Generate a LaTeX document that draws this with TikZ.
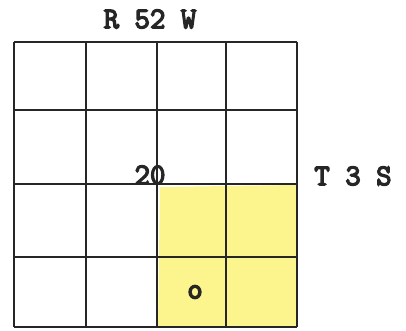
\documentclass[tikz,border=0pt]{standalone}
\usepackage{fontspec}
\newfontfamily\twfont[FakeBold=4.5]{Latin Modern Mono}
\definecolor{crayon}{RGB}{252,244,140}
\tikzset{
  gridline/.style={line width=1.3pt, draw=black!85},
  lbl/.style={font=\twfont\fontsize{30}{30}\selectfont, text=black!85, inner sep=0pt, anchor=center}
}
\begin{document}
\begin{tikzpicture}[x=1pt,y=-1pt]
\useasboundingbox (0,0) rectangle (406,330);
\fill[crayon] (160,187) -- (296,185) -- (297,327) -- (158,327) -- cycle;
\foreach \x in {14,86,157,226,297} \draw[gridline] (\x,42) -- (\x,327);
\foreach \y in {42,110,184,257,327} \draw[gridline] (14,\y) -- (297,\y);
\node[lbl] (top) at (150,19) {R 52 W};
\node[lbl] (right) at (353,176) {T 3 S};
\node[lbl] (twenty) at (150,175) {20};
\node[lbl] (circ) at (195,292) {o};
\end{tikzpicture}
\end{document}
